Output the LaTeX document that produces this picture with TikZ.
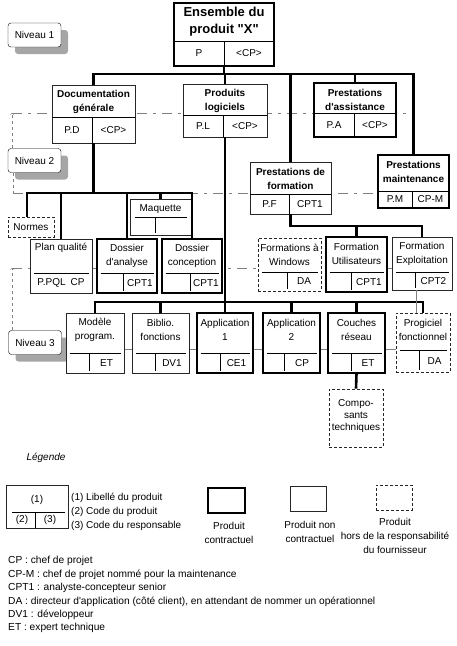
\documentclass[tikz,border=0pt]{standalone}
\usepackage{fontspec}
\setmainfont{Liberation Sans}[Ligatures=TeXOff]
\usetikzlibrary{fit,shadows}

\begin{document}
\begin{tikzpicture}[x=1pt, y=-1pt,
    contract/.style={draw, line width=1.8pt, fill=white, inner sep=0pt},
    noncontract/.style={draw=black!85, line width=0.7pt, fill=white, inner sep=0pt},
    horsresp/.style={draw=black!85, line width=0.8pt, dash pattern=on 3pt off 2pt, fill=white, inner sep=0pt},
    lien/.style={line width=2.6pt},
    niveau/.style={gray, line width=0.7pt, dash pattern=on 10pt off 6pt on 3pt off 6pt},
    etiq/.style={draw, rounded corners=3pt, fill=white, minimum width=53pt, minimum height=24pt,
        font=\fontsize{10}{12}\selectfont,
        drop shadow={shadow xshift=7pt, shadow yshift=-7pt, fill=gray!70, opacity=1}},
    titre/.style={font=\bfseries\fontsize{10}{14}\selectfont, align=center, inner sep=0pt},
    txt/.style={font=\fontsize{10}{14}\selectfont, align=center, inner sep=0pt}]

    \useasboundingbox (0,0) rectangle (457,646);

    % Level lines
    \coordinate (n1) at (12,113);
    \coordinate (n2) at (13,193);
    \coordinate (n3) at (12,268);
    \draw[niveau] (n1) -- (413,113);
    \draw[niveau] (n2) -- (450,193);
    \draw[niveau] (n3) -- (392,268);
    \draw[gray, line width=0.6pt] (60,349) -- (396,349);

    % Level labels
    \node[etiq] (niv1) at (34.5,35) {Niveau 1};
    \node[etiq] (niv2) at (34.5,160.5) {Niveau 2};
    \node[etiq] (niv3) at (35,342.5) {Niveau 3};
    \draw[gray, dashed, ->] (n1 |- niv2.north) -- (n1);
    \draw[gray, dashed] (n2 |- niv2.south) -- (n2);
    \draw[gray, dashed, ->] (n3 |- niv3.north) -- (n3);

    % Top product
    \node[contract, fit={(174,3) (274,66)}] (ens) {};
    \node[titre, font=\bfseries\fontsize{13}{17}\selectfont] (ens-t) at (224,22) {Ensemble du\\produit "X"};
    \draw[line width=0.7pt] (174,41) -- (274,41) (224,41) -- (224,66);
    \node[txt] (ens-c) at (199,53.5) {P};
    \node[txt] (ens-r) at (249,53.5) {<CP>};

    % Level 1 products
    \foreach \nom/\sty/\xg/\yh/\xd/\yb/\dv/\mx/\lab/\cd/\rs in {
        doc/noncontract/52/85/135/143/117/92/{Documentation\\générale}/P.D/<CP>,
        log/noncontract/183/84/267/137/115/223/{Produits\\logiciels}/P.L/<CP>,
        ass/contract/314/83/396/137/113/354/{Prestations\\d'assistance}/P.A/<CP>,
        form/noncontract/250/162/331/214/194/289/{Prestations de\\formation}/P.F/CPT1,
        maint/contract/378/155/449/208/191/412/{Prestations\\maintenance}/P.M/CP-M}
    {
        \node[\sty, fit={(\xg,\yh) (\xd,\yb)}] (\nom) {};
        \node[titre] (\nom-t) at ({(\xg+\xd)/2}, {\yh+17}) {\lab};
        \draw[line width=0.7pt] (\xg,\dv) -- (\xd,\dv) (\mx,\dv) -- (\mx,\yb);
        \node[txt] (\nom-c) at ({(\xg+\mx)/2}, {(\dv+\yb)/2}) {\cd};
        \node[txt] (\nom-r) at ({(\mx+\xd)/2}, {(\dv+\yb)/2}) {\rs};
    }

    % Level 2 and 3 products
    \foreach \nom/\sty/\xg/\yh/\xd/\yb/\dv/\mx/\lab/\rs in {
        dana/contract/97/239/157/293/273/123/{Dossier\\d'analyse}/CPT1,
        dcon/contract/162/239/222/293/273/190/{Dossier\\conception}/CPT1,
        win/horsresp/258/238/321/291/272/287/{Formations à\\Windows}/DA,
        util/contract/326/237/387/292/272/351/{Formation\\Utilisateurs}/CPT1,
        expl/noncontract/392/237/452/290/272/415/{Formation\\Exploitation}/CPT2,
        mod/noncontract/66/313/124/373/353/89/{Modèle\\program.}/ET,
        bib/noncontract/132/313/189/373/353/155/{Biblio.\\fonctions}/DV1,
        app1/contract/197/313/253/373/353/220/{Application\\1}/CE1,
        app2/contract/263/313/320/373/353/284/{Application\\2}/CP,
        cou/contract/328/313/385/373/353/351/{Couches\\réseau}/ET,
        prog/horsresp/396/313/450/372/350/419/{Progiciel\\fonctionnel}/DA}
    {
        \node[\sty, fit={(\xg,\yh) (\xd,\yb)}] (\nom) {};
        \node[txt] (\nom-t) at ({(\xg+\xd)/2}, {\yh+17}) {\lab};
        \draw[line width=0.6pt] ({\xg+3.5},\dv) -- ({\xd-3.5},\dv) (\mx,\dv) -- (\mx,{\yb-2});
        \node[txt] (\nom-r) at ({(\mx+\xd)/2}, {(\dv+\yb)/2}) {\rs};
    }

    % Plan qualite, maquette, normes, composants
    \node[noncontract, fit={(30,239) (92,293)}] (plan) {};
    \node[txt] (plan-t) at (61,248) {Plan qualité};
    \draw[line width=0.6pt] (33.5,273) -- (88.5,273);
    \node[txt] (plan-c) at (61,283) {P.PQL\enspace CP};

    \node[noncontract, fit={(130,199) (191,235)}] (maq) {};
    \node[txt] (maq-t) at (160.5,209) {Maquette};
    \draw[line width=0.6pt] (135,217) -- (187,217) (155,217) -- (155,233);

    \node[horsresp, fit={(8,217) (54,237)}] (norm) {};
    \node[txt] (norm-t) at (31,227) {Normes};

    \node[horsresp, fit={(329,389) (383,447)}] (comp) {};
    \node[txt, font=\fontsize{10}{12}\selectfont] (comp-t) at (356,416) {Compo-\\sants\\techniques};

    % Links level 1
    \coordinate (bus1) at (0,74);
    \draw[lien] (ens.south) -- (ens.south |- bus1);
    \draw[lien] (doc.north) -- (doc.north |- bus1) -- (maint.north |- bus1) -- (maint.north);
    \foreach \n in {log,ass,form}
        \draw[lien] (\n.north |- bus1) -- (\n.north);

    % Links level 2
    \coordinate (bus2) at (0,193);
    \draw[lien] (doc.south) -- (doc.south |- bus2);
    \draw[lien] ([xshift=-4pt]norm.north) -- ([xshift=-4pt]norm.north |- bus2) -- (dcon.north |- bus2) -- (dcon.north);
    \foreach \n in {plan,dana,maq}
        \draw[lien] (\n.north |- bus2) -- (\n.north);
    \coordinate (bus4) at (0,226);
    \draw[lien] (form.south) -- (form.south |- bus4) -- (expl.north |- bus4) -- (expl.north);
    \draw[lien] (util.north |- bus4) -- (util.north);

    % Links level 3
    \coordinate (bus3) at (0,302);
    \draw[lien] (log.south) -- (app1.north);
    \draw[lien] (mod.north) -- (mod.north |- bus3) -- (prog.north |- bus3) -- (prog.north);
    \foreach \n in {bib,app2,cou}
        \draw[lien] (\n.north |- bus3) -- (\n.north);
    \draw[lien] (cou.south) -- (comp.north);
    \draw[gray, line width=0.5pt] ([xshift=-6pt]expl.south) -- ([xshift=-6pt]expl.south |- prog.north);

    % Legend
    \node[font=\itshape\fontsize{10}{12}\selectfont] (leg) at (46,458) {Légende};
    \node[noncontract, fit={(6,485) (68,528)}] (legbox) {};
    \draw[line width=0.6pt] (12,512) -- (65,512) (35,512) -- (35,528);
    \node[txt] (leg1) at (37,500) {(1)};
    \node[txt] (leg2) at (22,520) {(2)};
    \node[txt] (leg3) at (50,520) {(3)};
    \foreach \ligne [count=\i] in {{(1) Libellé du produit}, {(2) Code du produit}, {(3) Code du responsable}}
        \node[txt, anchor=base west] (legd\i) at (71, {486.6+14*\i}) {\ligne};

    \node[contract, fit={(208,488) (245,513)}] (legc) {};
    \node[txt] (legc-t) at (229,533) {Produit\\contractuel};
    \node[noncontract, fit={(290,486) (326,511)}] (legn) {};
    \node[txt] (legn-t) at (310,532) {Produit non\\contractuel};
    \node[horsresp, fit={(376,485) (412,510)}] (legh) {};
    \node[txt] (legh-t) at (395,536) {Produit\\hors de la responsabilité\\du fournisseur};

    % Abbreviations
    \foreach \ligne [count=\i] in {{CP : chef de projet},
            {CP-M : chef de projet nommé pour la maintenance},
            {CPT1 : analyste-concepteur senior},
            {DA : directeur d'application (côté client), en attendant de nommer un opérationnel},
            {DV1 : développeur},
            {ET : expert technique}}
        \node[font=\fontsize{10.2}{13}\selectfont, anchor=base west, inner sep=0pt] (abr\i) at (8, {550.5+13.4*\i}) {\ligne};

\end{tikzpicture}
\end{document}
